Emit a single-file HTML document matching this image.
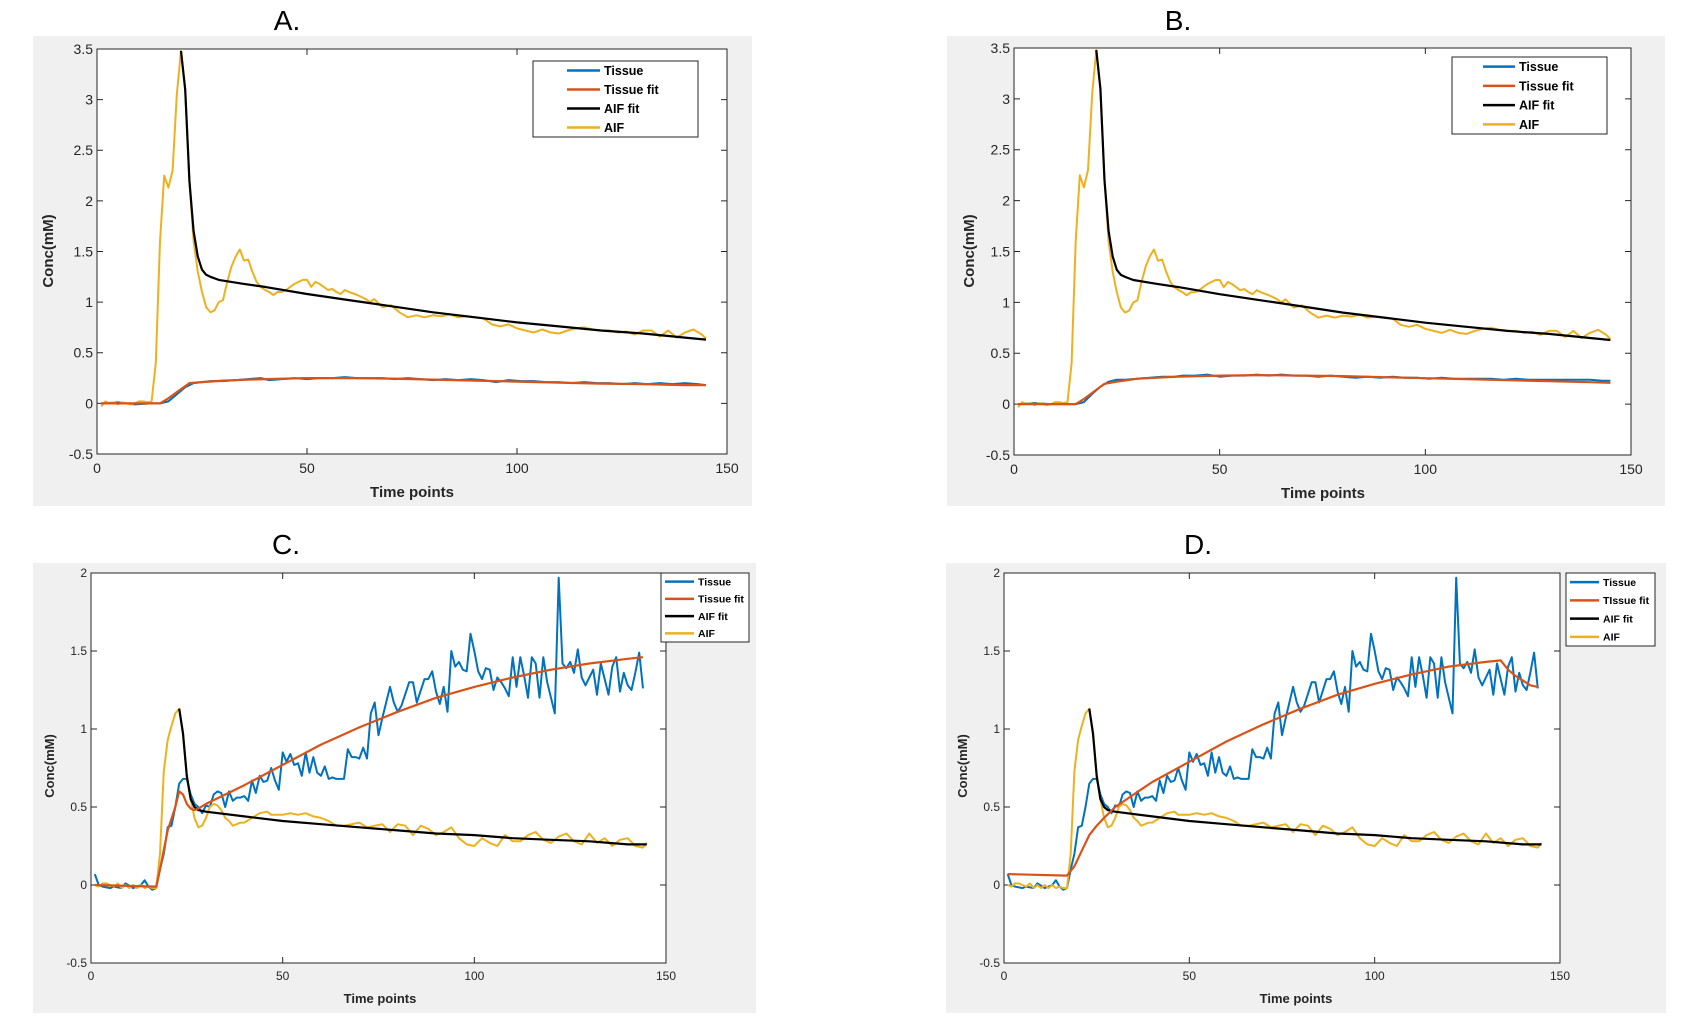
<!DOCTYPE html>
<html><head><meta charset="utf-8"><style>
html,body{margin:0;padding:0;background:#fff;}
svg{display:block;font-family:"Liberation Sans",sans-serif;}
</style></head><body>
<svg id="fig" width="1695" height="1027" viewBox="0 0 1695 1027" xmlns="http://www.w3.org/2000/svg"></svg>
<script>
const aifABt = [1,2,3,4,5,6,7,8,9,10,11,12,13,14,15,16,17,18,19,20,21,22,23,24,25,26,27,28,29,30,31,32,33,34,35,36,37,38,39,40,41,42,43,44,45,46,47,48,49,50,51,52,53,54,55,56,57,58,59,60,62,64,65,66,68,70,72,74,76,78,80,82,84,86,88,90,92,94,96,98,100,102,104,106,108,110,112,114,116,118,120,122,124,126,128,130,132,134,136,138,140,142,144,145];
const aifABv = [-0.03,0.02,0.0,0.01,-0.01,0.01,0.0,-0.01,0.0,0.02,0.02,0.01,0.02,0.4,1.6,2.25,2.13,2.3,3.05,3.48,3.1,2.2,1.6,1.3,1.1,0.95,0.9,0.92,1.0,1.02,1.2,1.35,1.45,1.52,1.41,1.42,1.3,1.2,1.15,1.12,1.1,1.07,1.1,1.1,1.12,1.15,1.18,1.2,1.22,1.22,1.15,1.2,1.18,1.15,1.12,1.13,1.1,1.08,1.12,1.1,1.07,1.03,1.0,1.03,0.95,0.97,0.9,0.85,0.87,0.85,0.87,0.86,0.88,0.85,0.86,0.85,0.84,0.78,0.76,0.78,0.74,0.72,0.7,0.73,0.7,0.69,0.72,0.74,0.75,0.73,0.72,0.72,0.7,0.71,0.68,0.72,0.72,0.66,0.72,0.65,0.7,0.73,0.68,0.64];
const aifFitABt = [20,21,22,23,24,25,26,27,29,35,40,50,60,70,80,90,100,110,120,130,140,145];
const aifFitABv = [3.48,3.1,2.2,1.7,1.45,1.32,1.27,1.25,1.22,1.18,1.15,1.08,1.02,0.96,0.9,0.85,0.8,0.76,0.72,0.69,0.65,0.63];
const tissueAt = [1,5,9,13,15,17,19,21,23,25,27,30,33,36,39,41,44,47,50,53,56,59,62,65,68,71,74,77,80,83,86,89,92,95,98,101,104,107,110,113,116,119,122,125,128,131,134,137,140,143,145];
const tissueAv = [0,0.01,-0.01,0,0,0.02,0.09,0.16,0.2,0.21,0.22,0.22,0.23,0.24,0.25,0.23,0.24,0.25,0.24,0.25,0.25,0.26,0.25,0.25,0.25,0.24,0.25,0.24,0.23,0.24,0.23,0.24,0.23,0.21,0.23,0.22,0.22,0.21,0.21,0.2,0.21,0.2,0.2,0.19,0.2,0.19,0.2,0.19,0.2,0.19,0.18];
const tissueFitAt = [1,15,17,19,21,22,25,30,40,50,60,70,80,90,100,110,120,130,140,145];
const tissueFitAv = [0,0,0.05,0.11,0.17,0.2,0.21,0.225,0.24,0.25,0.25,0.245,0.235,0.225,0.215,0.205,0.195,0.19,0.18,0.18];
const tissueBt = [1,5,9,13,15,17,19,21,23,25,27,30,33,36,39,41,44,47,50,53,56,59,62,65,68,71,74,77,80,83,86,89,92,95,98,101,104,107,110,113,116,119,122,125,128,131,134,137,140,143,145];
const tissueBv = [0,0.01,0,0,0,0.02,0.1,0.17,0.22,0.24,0.24,0.25,0.26,0.27,0.27,0.28,0.28,0.29,0.27,0.28,0.28,0.29,0.28,0.29,0.28,0.28,0.27,0.28,0.27,0.26,0.27,0.26,0.27,0.26,0.26,0.25,0.26,0.25,0.25,0.25,0.25,0.24,0.25,0.24,0.24,0.24,0.24,0.24,0.24,0.23,0.23];
const tissueFitBt = [1,15,17,19,21,22,25,30,40,50,60,70,80,90,100,110,120,130,140,145];
const tissueFitBv = [0,0,0.05,0.11,0.17,0.2,0.22,0.25,0.27,0.28,0.285,0.28,0.275,0.265,0.255,0.245,0.235,0.225,0.215,0.21];
const aifCDt = [1,2,3,4,5,6,7,8,9,10,11,12,13,14,15,16,17,18,19,20,21,22,23,24,25,26,27,28,29,30,31,32,33,34,35,36,37,38,39,40,42,44,46,47,50,52,54,56,58,60,62,64,66,68,70,72,74,76,78,80,82,84,86,88,90,92,94,96,98,100,102,104,106,108,110,112,114,116,118,120,122,124,126,128,130,132,134,136,138,140,142,144,145];
const aifCDv = [0,-0.01,0.01,0.01,0,-0.01,0.01,-0.02,0.0,-0.02,0.0,-0.02,0,-0.02,-0.01,-0.02,-0.02,0.2,0.73,0.93,1.02,1.1,1.13,0.98,0.7,0.55,0.43,0.37,0.38,0.43,0.5,0.52,0.51,0.48,0.43,0.41,0.38,0.39,0.4,0.4,0.43,0.46,0.47,0.45,0.45,0.46,0.45,0.46,0.44,0.43,0.41,0.38,0.38,0.39,0.4,0.37,0.38,0.39,0.34,0.39,0.38,0.32,0.38,0.36,0.32,0.34,0.37,0.3,0.26,0.25,0.3,0.27,0.25,0.32,0.28,0.28,0.32,0.34,0.29,0.27,0.31,0.33,0.28,0.26,0.33,0.27,0.3,0.25,0.29,0.3,0.25,0.24,0.27];
const aifFitCDt = [23,24,25,26,27,28,30,40,50,60,70,80,90,100,110,120,130,140,145];
const aifFitCDv = [1.13,0.97,0.7,0.55,0.5,0.48,0.47,0.44,0.41,0.39,0.37,0.35,0.33,0.32,0.3,0.29,0.28,0.26,0.26];
const tissueCDt = [1,2,3,5,6,8,9,11,13,14,15,16,17,18,19,20,21,22,23,24,25,26,27,28,29,30,31,32,33,34,35,36,37,38,39,40,41,42,43,44,45,46,47,48,49,50,51,52,53,54,55,56,57,58,59,60,61,62,63,64,65,66,67,68,69,70,71,72,73,74,75,76,78,79,80,81,83,84,85,87,88,89,90,91,92,93,94,95,96,97,98,99,100,101,102,103,104,105,106,107,108,109,110,111,112,113,114,115,116,117,118,119,120,121,122,123,124,125,126,127,128,129,130,131,132,133,134,135,136,137,138,139,140,141,142,143,144];
const tissueCDv = [0.07,0,-0.01,-0.02,-0.01,-0.02,0.01,-0.02,0,0.03,-0.01,-0.03,-0.02,0.1,0.2,0.37,0.38,0.5,0.65,0.68,0.68,0.58,0.52,0.5,0.46,0.51,0.5,0.58,0.6,0.59,0.5,0.6,0.54,0.56,0.56,0.57,0.54,0.67,0.59,0.7,0.66,0.67,0.75,0.67,0.61,0.85,0.79,0.84,0.77,0.78,0.7,0.85,0.72,0.82,0.72,0.7,0.76,0.68,0.69,0.68,0.68,0.68,0.87,0.82,0.82,0.81,0.88,0.81,1.1,1.17,0.96,1.07,1.27,1.17,1.11,1.15,1.3,1.3,1.17,1.32,1.32,1.37,1.24,1.16,1.27,1.11,1.5,1.4,1.43,1.38,1.37,1.61,1.5,1.37,1.32,1.39,1.38,1.25,1.33,1.3,1.26,1.21,1.46,1.27,1.46,1.34,1.2,1.46,1.42,1.2,1.46,1.3,1.2,1.1,1.97,1.42,1.39,1.43,1.36,1.51,1.33,1.28,1.33,1.38,1.22,1.42,1.32,1.22,1.4,1.46,1.24,1.36,1.28,1.25,1.36,1.49,1.26];
const tissueFitCt = [1,17,18,20,22,23,24,25,26,27,28,30,40,50,60,70,80,90,100,110,120,130,140,144];
const tissueFitCv = [0,-0.01,0.1,0.35,0.5,0.6,0.58,0.52,0.49,0.48,0.49,0.52,0.64,0.77,0.9,1.01,1.11,1.2,1.27,1.33,1.38,1.42,1.45,1.46];
const tissueFitDt = [1,17,19,21,23,25,27,30,35,40,50,60,70,80,90,100,110,120,130,134,136,138,140,142,144];
const tissueFitDv = [0.07,0.06,0.12,0.22,0.32,0.38,0.43,0.5,0.58,0.66,0.79,0.92,1.03,1.13,1.22,1.29,1.35,1.4,1.43,1.44,1.38,1.34,1.31,1.28,1.27];
const xTicksAll = [0,50,100,150];
const yTicksAB = [-0.5,0,0.5,1,1.5,2,2.5,3,3.5];
const yTicksCD = [-0.5,0,0.5,1,1.5,2];
const legendLabelsABC = ["Tissue","Tissue fit","AIF fit","AIF"];
const legendLabelsD = ["Tissue","TIssue fit","AIF fit","AIF"];

const NS = "http://www.w3.org/2000/svg";
const fig = document.getElementById("fig");
const COL = {tissue:"#0072BD", fit:"#D95319", aiffit:"#000000", aif:"#EDB120"};

function mk(tag, attrs, parent){
  const e = document.createElementNS(NS, tag);
  for (const k in attrs) e.setAttribute(k, attrs[k]);
  (parent||fig).appendChild(e);
  return e;
}

function panel(p){
  const g = mk("g", {});
  
  
  const bg = mk("rect", {x:p.bg[0], y:p.bg[1], width:p.bg[2]-p.bg[0], height:p.bg[3]-p.bg[1], fill:"#f0f0f0"}, g);
  
  
  const [L,T,R,B] = p.plot;
  const pa = mk("rect", {x:L, y:T, width:R-L, height:B-T, fill:"#fff"}, g);
  
  
  const sx = v => L + (v - p.xmin)/(p.xmax - p.xmin)*(R-L);
  const sy = v => B - (v - p.ymin)/(p.ymax - p.ymin)*(B-T);
  const tt = mk("text", {x:p.title[0], y:p.title[1], "font-size":28, "text-anchor":"middle", fill:"#000"}, g);
  tt.textContent = p.id + ".";
  
  
  const tl = 6;
  xTicksAll.forEach(v => {
    const x = sx(v);
    mk("line", {x1:x, y1:B, x2:x, y2:B-tl, stroke:"#262626", "stroke-width":1}, g);
    mk("line", {x1:x, y1:T, x2:x, y2:T+tl, stroke:"#262626", "stroke-width":1}, g);
    const t = mk("text", {x:x, y:B+p.xtickDy, "font-size":p.fs, "text-anchor":"middle", fill:"#262626"}, g);
    t.textContent = v;
    
    
  });
  p.yticks.forEach(v => {
    const y = sy(v);
    mk("line", {x1:L, y1:y, x2:L+tl, y2:y, stroke:"#262626", "stroke-width":1}, g);
    mk("line", {x1:R, y1:y, x2:R-tl, y2:y, stroke:"#262626", "stroke-width":1}, g);
    const t = mk("text", {x:L-4, y:y+p.fs*0.35, "font-size":p.fs, "text-anchor":"end", fill:"#262626"}, g);
    t.textContent = v;
    
    
  });
  function series(ts, vs, color, name, w){
    let d = "";
    ts.forEach((t,i) => { d += (i ? "L" : "M") + sx(t).toFixed(1) + "," + sy(vs[i]).toFixed(1); });
    const path = mk("path", {d:d, fill:"none", stroke:color, "stroke-width":w, "stroke-linejoin":"round"}, g);
    
    
  }
  series(p.tissue[0], p.tissue[1], COL.tissue, "tissue-line", 2);
  series(p.aif[0], p.aif[1], COL.aif, "aif-line", 2);
  series(p.aiffit[0], p.aiffit[1], COL.aiffit, "aif-fit-line", 2.2);
  series(p.fit[0], p.fit[1], COL.fit, "tissue-fit-line", 2.2);
  mk("rect", {x:L, y:T, width:R-L, height:B-T, fill:"none", stroke:"#262626", "stroke-width":1}, g);
  const xl = mk("text", {x:p.xlab[0], y:p.xlab[1], "font-size":p.lfs, "font-weight":"bold", "text-anchor":"middle", fill:"#262626"}, g);
  xl.textContent = "Time points";
  
  
  const yl = mk("text", {x:0, y:0, "font-size":p.lfs, "font-weight":"bold", "text-anchor":"middle", fill:"#262626", transform:"translate("+p.ylab[0]+","+p.ylab[1]+") rotate(-90)"}, g);
  yl.textContent = "Conc(mM)";
  
  
  const [lx0,ly0,lx1,ly1] = p.leg;
  const lg = mk("g", {}, g);
  
  
  mk("rect", {x:lx0, y:ly0, width:lx1-lx0, height:ly1-ly0, fill:"#fff", stroke:"#262626", "stroke-width":1}, lg);
  const cols = [COL.tissue, COL.fit, COL.aiffit, COL.aif];
  const step = (ly1-ly0)/4;
  p.legLabels.forEach((lab,i) => {
    const y = ly0 + step*(i+0.5);
    mk("line", {x1:p.legLine[0], y1:y, x2:p.legLine[1], y2:y, stroke:cols[i], "stroke-width":2.5}, lg);
    const t = mk("text", {x:p.legLine[1]+4, y:y+p.legFs*0.36, "font-size":p.legFs, "font-weight":"bold", fill:"#000"}, lg);
    t.textContent = lab;
    
    
  });
}

panel({id:"A", bg:[33,36,752,506], plot:[97,49,727,454], xmin:0,xmax:150,ymin:-0.5,ymax:3.5, yticks:yTicksAB,
  title:[287,30], fs:14, lfs:15, xtickDy:19, xlab:[412,497], ylab:[53,251],
  leg:[533,61,698,137], legLine:[567,600], legFs:12.5, legLabels:legendLabelsABC,
  tissue:[tissueAt,tissueAv], fit:[tissueFitAt,tissueFitAv], aif:[aifABt,aifABv], aiffit:[aifFitABt,aifFitABv]});
panel({id:"B", bg:[947,36,1665,506], plot:[1014,48,1631,455], xmin:0,xmax:150,ymin:-0.5,ymax:3.5, yticks:yTicksAB,
  title:[1178,30], fs:14, lfs:15, xtickDy:19, xlab:[1323,498], ylab:[974,251],
  leg:[1452,57,1607,134], legLine:[1483,1515], legFs:12.5, legLabels:legendLabelsABC,
  tissue:[tissueBt,tissueBv], fit:[tissueFitBt,tissueFitBv], aif:[aifABt,aifABv], aiffit:[aifFitABt,aifFitABv]});
panel({id:"C", bg:[33,563,756,1013], plot:[91,573,666,963], xmin:0,xmax:150,ymin:-0.5,ymax:2, yticks:yTicksCD,
  title:[286,554], fs:12, lfs:13, xtickDy:17, xlab:[380,1003], ylab:[54,766],
  leg:[661,573,749,642], legLine:[665,694], legFs:10.5, legLabels:legendLabelsABC,
  tissue:[tissueCDt,tissueCDv], fit:[tissueFitCt,tissueFitCv], aif:[aifCDt,aifCDv], aiffit:[aifFitCDt,aifFitCDv]});
panel({id:"D", bg:[946,563,1666,1013], plot:[1004,573,1560,963], xmin:0,xmax:150,ymin:-0.5,ymax:2, yticks:yTicksCD,
  title:[1198,554], fs:12, lfs:13, xtickDy:17, xlab:[1296,1003], ylab:[967,766],
  leg:[1566,573,1655,646], legLine:[1570,1599], legFs:10.5, legLabels:legendLabelsD,
  tissue:[tissueCDt,tissueCDv], fit:[tissueFitDt,tissueFitDv], aif:[aifCDt,aifCDv], aiffit:[aifFitCDt,aifFitCDv]});
</script>
</body></html>
